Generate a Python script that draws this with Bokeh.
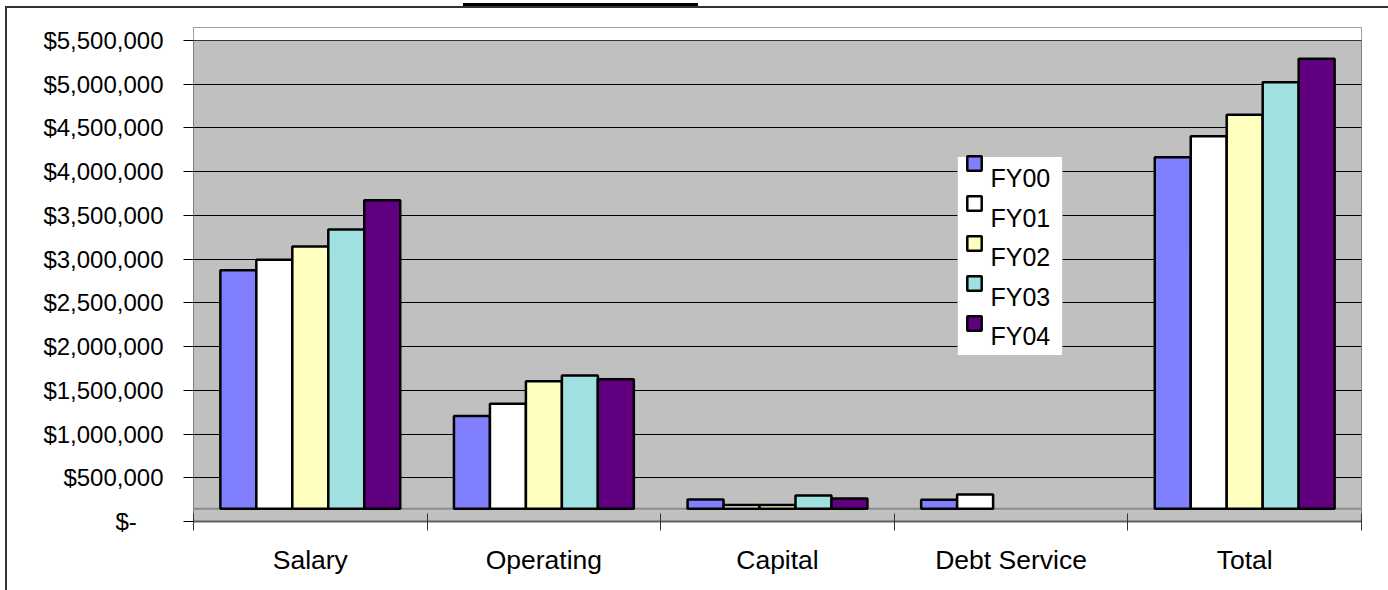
from bokeh.plotting import figure
from bokeh.models import (Range1d, FixedTicker, BoxAnnotation, Span, Legend,
                          LegendItem, Label)
from bokeh.embed import file_html
from bokeh.resources import INLINE

# ---- data ----
categories = ["Salary", "Operating", "Capital", "Debt Service", "Total"]
series_names = ["FY00", "FY01", "FY02", "FY03", "FY04"]
fy00 = [2872000, 1206000, 251000, 248000, 4165000]
fy01 = [2993000, 1346000, 190000, 308000, 4404000]
fy02 = [3146000, 1605000, 190000, 0, 4652000]
fy03 = [3340000, 1670000, 297000, 0, 5024000]
fy04 = [3674000, 1628000, 262000, 0, 5291000]
series_values = [fy00, fy01, fy02, fy03, fy04]
y_ticks = [0, 500000, 1000000, 1500000, 2000000, 2500000, 3000000,
           3500000, 4000000, 4500000, 5000000, 5500000]
y_tick_labels = ["$-\u00a0\u00a0\u00a0\u00a0", "$500,000", "$1,000,000", "$1,500,000",
                 "$2,000,000", "$2,500,000", "$3,000,000", "$3,500,000",
                 "$4,000,000", "$4,500,000", "$5,000,000", "$5,500,000"]

# ---- styles ----
series_colors = ["#8080FF", "#FFFFFF", "#FFFFC0", "#A0E0E0", "#600080"]
floor_value = 145000
bar_width = 0.154
y_max = 5.5e6
y_top = 5.649e6
FONT = "Liberation Sans"

p = figure(width=1388, height=590, x_range=Range1d(0, len(categories)),
           y_range=Range1d(0, y_top), output_backend="svg", toolbar_location=None,
           min_border_left=193, min_border_right=27, min_border_top=27,
           min_border_bottom=69, background_fill_color="#C0C0C0",
           border_fill_alpha=0)
p.outline_line_color = "#808080"
p.outline_line_width = 1

# page background: white, outer chart border and the cut-off title underline
p.styles = {
    "background-color": "white",
    "background-image": ("linear-gradient(#000000, #000000), "
                         "linear-gradient(#333333, #333333), "
                         "linear-gradient(#333333, #333333)"),
    "background-size": "235px 3px, 2px 590px, 1388px 2px",
    "background-position": "463px 3px, 5px 6px, 5px 6px",
    "background-repeat": "no-repeat",
}

# grid
p.xgrid.visible = False
p.ygrid.ticker = FixedTicker(ticks=y_ticks)
p.ygrid.grid_line_color = "black"
p.ygrid.grid_line_width = 1

# white band above the top of the wall
p.add_layout(BoxAnnotation(bottom=y_max, fill_color="white", fill_alpha=1,
                           line_color=None, level="underlay"))
p.add_layout(Span(location=y_max, dimension="width", line_color="#333333",
                  line_width=1, level="underlay"))
p.add_layout(Span(location=floor_value, dimension="width", line_color="#8c8c8c",
                  line_width=2, level="underlay"))

# bars
renderers = []
n = len(series_values)
for k, (vals, col) in enumerate(zip(series_values, series_colors)):
    xs = [i + 0.5 + (k - (n - 1) / 2) * bar_width for i, v in enumerate(vals) if v > floor_value]
    tops = [v for v in vals if v > floor_value]
    r = p.vbar(x=xs, top=tops, bottom=floor_value, width=bar_width,
               fill_color=col, line_color="black", line_width=2.5)
    renderers.append(r)

# y axis
p.yaxis.ticker = FixedTicker(ticks=y_ticks)
p.yaxis.major_label_overrides = {t: l for t, l in zip(y_ticks, y_tick_labels)}
p.yaxis.axis_line_color = None
p.yaxis.major_tick_in = 0
p.yaxis.major_tick_out = 10
p.yaxis.major_tick_line_color = "black"
p.yaxis.minor_tick_line_color = None
p.yaxis.major_label_standoff = 20
p.yaxis.major_label_text_font = FONT
p.yaxis.major_label_text_font_size = "24px"
p.yaxis.major_label_text_color = "black"

# x axis (category ticks between groups)
p.xaxis.ticker = FixedTicker(ticks=[i + 0.5 for i in range(len(categories))],
                             minor_ticks=list(range(len(categories) + 1)))
p.xaxis.major_label_overrides = {i + 0.5: c for i, c in enumerate(categories)}
p.xaxis.axis_line_color = "#606060"
p.xaxis.axis_line_width = 2
p.xaxis.major_tick_line_color = None
p.xaxis.major_tick_in = 0
p.xaxis.major_tick_out = 9
p.xaxis.minor_tick_line_color = "#333333"
p.xaxis.minor_tick_in = 8
p.xaxis.minor_tick_out = 9
p.xaxis.major_label_standoff = 14
p.xaxis.major_label_text_font = FONT
p.xaxis.major_label_text_font_size = "26.5px"
p.xaxis.major_label_text_color = "black"

# legend box
p.add_layout(BoxAnnotation(left=957, right=1062, top=156, bottom=355,
                           left_units="canvas", right_units="canvas",
                           top_units="canvas", bottom_units="canvas",
                           fill_color="white", fill_alpha=1,
                           line_color="#808080", line_width=1))
# legend swatches
legend_swatches = Legend(items=[LegendItem(label=" ", renderers=[r]) for r in renderers],
                         location=(772, 178), padding=0, spacing=0, margin=0,
                         glyph_width=18, glyph_height=18, label_height=40,
                         label_standoff=0, label_text_font=FONT,
                         label_text_font_size="25px", border_line_color=None,
                         background_fill_alpha=0)
p.add_layout(legend_swatches)
# legend labels (they sit lower than the swatches, as in the original)
for k, nm in enumerate(series_names):
    p.add_layout(Label(x=990, y=177.5 + 39.5 * k, x_units="canvas", y_units="canvas",
                       anchor="center_left", text=nm, text_font=FONT,
                       text_font_size="25px", text_color="black"))

open("out.html", "w").write(file_html(p, INLINE))
